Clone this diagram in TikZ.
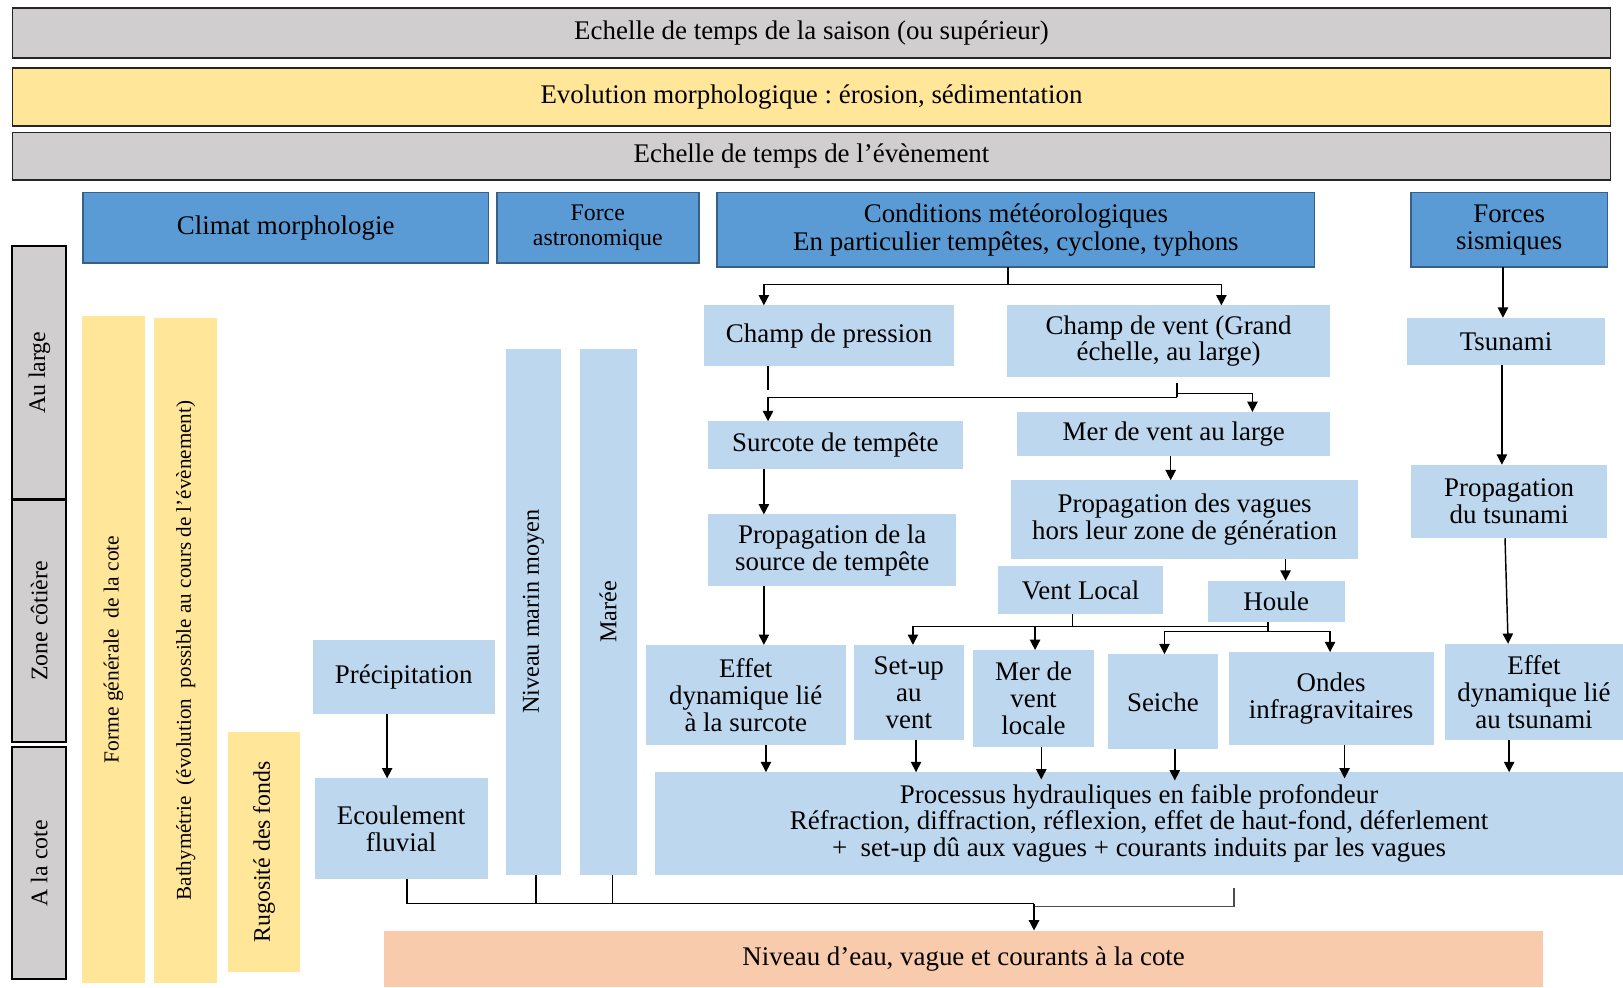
\documentclass[tikz,border=0pt]{standalone}
\usepackage{fontspec}
\setmainfont{Liberation Serif}
\usetikzlibrary{arrows.meta,calc}
\frenchspacing
\definecolor{graybg}{HTML}{D0CECE}
\definecolor{yel}{HTML}{FFE699}
\definecolor{bhead}{HTML}{5B9BD5}
\definecolor{bborder}{HTML}{3A5F85}
\definecolor{lblue}{HTML}{BDD7EE}
\definecolor{salmon}{HTML}{F8CBAD}
\newcommand{\mybox}[7]{\node[#1, minimum width={(#5-#3)*0.5pt}, minimum height={(#6-#4)*0.5pt}] (#2) at ({(#3+#5)/2},{(#4+#6)/2}) {#7};}
\newcommand{\myvbox}[7]{\node[#1, rotate=90, minimum width={(#6-#4)*0.5pt}, minimum height={(#5-#3)*0.5pt}] (#2) at ({(#3+#5)/2},{(#4+#6)/2}) {#7};}
\tikzset{
  base/.style={rectangle, inner sep=0pt, outer sep=0pt, align=center, font=\fontsize{13}{13}\selectfont},
  graybar/.style={base, fill=graybg, draw=black!85, line width=0.8pt},
  yelbar/.style={base, fill=yel, draw=black!85, line width=0.8pt},
  head/.style={base, fill=bhead, draw=bborder, line width=0.8pt},
  side/.style={base, fill=graybg, draw=black, line width=1pt, font=\fontsize{11.5}{12}\selectfont},
  yv/.style={base, fill=yel},
  lb/.style={base, fill=lblue},
  sal/.style={base, fill=salmon},
  ln/.style={line width=0.7pt, draw=black},
  arr/.style={ln, -{Triangle[length=5pt,width=5pt]}}
}
\begin{document}
\begin{tikzpicture}[x=0.5pt,y=-0.5pt]
\useasboundingbox (0,0) rectangle (1568,954);
% top bars
\mybox{graybar}{g1}{12}{8}{1556}{56}{Echelle de temps de la saison (ou supérieur)}
\mybox{yelbar}{yb}{12}{66}{1556}{122}{Evolution morphologique : érosion, sédimentation}
\mybox{graybar}{g2}{12}{128}{1556}{174}{Echelle de temps de l’évènement}
% headers
\mybox{head}{clim}{80}{186}{472}{254}{Climat morphologie}
\mybox{head, font=\fontsize{11.5}{12}\selectfont}{force}{480}{186}{675}{254}{Force\\astronomique}
\mybox{head, font=\fontsize{13}{13.5}\selectfont}{cond}{693}{186}{1270}{258}{Conditions météorologiques\\En particulier tempêtes, cyclone, typhons}
\mybox{head}{sism}{1363}{186}{1553}{258}{Forces\\sismiques}
% left side labels
\myvbox{side}{aul}{12}{238}{64}{482}{Au large}
\myvbox{side}{zc}{12}{483}{64}{717}{Zone côtière}
\myvbox{side}{alc}{12}{722}{64}{946}{A la cote}
% yellow vertical bars
\myvbox{yv, font=\fontsize{10.4}{11}\selectfont}{forme}{79}{305}{140}{950}{Forme générale\ \ de la cote}
\myvbox{yv, font=\fontsize{10.2}{11}\selectfont}{bathy}{149}{307}{210}{950}{Bathymétrie\ \ (évolution\ \ possible au cours de l’évènement)}
\myvbox{yv, font=\fontsize{11.5}{12}\selectfont}{rug}{220}{707}{290}{939}{Rugosité des fonds}
% light blue verticals
\myvbox{lb, font=\fontsize{11.7}{12}\selectfont}{nmm}{489}{337}{542}{845}{Niveau marin moyen}
\myvbox{lb, font=\fontsize{11.7}{12}\selectfont}{maree}{560}{337}{615}{845}{Marée}
% light blue boxes
\mybox{lb}{precip}{302}{618}{478}{690}{Précipitation}
\mybox{lb}{ecoul}{304}{752}{471}{849}{Ecoulement\\fluvial}
\mybox{lb}{pres}{680}{295}{922}{354}{Champ de pression}
\mybox{lb}{vent}{973}{295}{1285}{364}{Champ de vent (Grand\\échelle, au large)}
\mybox{lb}{surc}{684}{407}{930}{453}{Surcote de tempête}
\mybox{lb}{merl}{983}{398}{1285}{441}{Mer de vent au large}
\mybox{lb}{props}{684}{497}{924}{566}{Propagation de la\\source de tempête}
\mybox{lb}{propv}{977}{464}{1312}{540}{Propagation des vagues\\hors leur zone de génération}
\mybox{lb}{ventl}{964}{547}{1124}{593}{Vent Local}
\mybox{lb}{houle}{1167}{561}{1299}{601}{Houle}
\mybox{lb}{effs}{624}{623}{817}{720}{Effet\\dynamique lié\\à la surcote}
\mybox{lb}{setup}{825}{623}{931}{715}{Set-up\\au\\vent}
\mybox{lb}{merloc}{940}{628}{1057}{722}{Mer de\\vent\\locale}
\mybox{lb}{seiche}{1070}{632}{1177}{724}{Seiche}
\mybox{lb}{ondes}{1187}{630}{1385}{720}{Ondes\\infragravitaires}
\mybox{lb}{efft}{1396}{622}{1568}{715}{Effet\\dynamique lié\\au tsunami}
\mybox{lb}{tsu}{1359}{307}{1551}{353}{Tsunami}
\mybox{lb}{propt}{1363}{449}{1553}{520}{Propagation\\du tsunami}
\mybox{lb}{proc}{633}{746}{1568}{845}{Processus hydrauliques en faible profondeur\\Réfraction, diffraction, réflexion, effet de haut-fond, déferlement\\+\ \ set-up dû aux vagues + courants induits par les vagues}
\mybox{sal}{niv}{371}{899}{1491}{954}{Niveau d’eau, vague et courants à la cote}
% connectors: meteorological branch
\coordinate (j1) at (974,275);
\draw[ln] (974,0 |- cond.south) -- (j1);
\draw[arr] (j1) -| (738,0 |- pres.north);
\draw[arr] (j1) -| (1180,0 |- vent.north);
\coordinate (pe) at (742,377);
\draw[ln] (742,0 |- pres.south) -- (pe);
\coordinate (j2) at (1137,384);
\draw[ln] ($(1137,0 |- vent.south)+(0,6)$) -- (j2);
\draw[arr] (j2) -| (742,0 |- surc.north);
\draw[arr] ($(j2)+(0,-4)$) -| (1210,0 |- merl.north);
\draw[arr] (738,0 |- surc.south) -- (738,0 |- props.north);
\draw[arr] (1131,0 |- merl.south) -- (1131,0 |- propv.north);
\draw[arr] (1242,0 |- propv.south) -- (1242,0 |- houle.north);
\draw[arr] (738,0 |- props.south) -- (738,0 |- effs.north);
\coordinate (j3) at (1036,605);
\coordinate (j4) at (1225,605);
\coordinate (j5) at (1225,610);
\draw[ln] (1036,0 |- ventl.south) -- (j3);
\draw[ln] (1225,0 |- houle.south) -- (j5);
\draw[arr] (j4) -| (882,0 |- setup.north);
\draw[arr] (j3) -| (1000,0 |- merloc.north);
\draw[arr] (j5) -| (1125,0 |- seiche.north);
\draw[arr] (j5) -| (1285,0 |- ondes.north);
% to processus
\draw[arr] (740,0 |- effs.south) -- (740,0 |- proc.north);
\draw[arr] (885,0 |- setup.south) -- (885,0 |- proc.north);
\draw[arr] (1006,0 |- merloc.south) -- ($(1006,0 |- proc.north)+(0,7)$);
\draw[arr] (1135,0 |- seiche.south) -- ($(1135,0 |- proc.north)+(0,8)$);
\draw[arr] (1299,0 |- ondes.south) -- ($(1299,0 |- proc.north)+(0,6)$);
\draw[arr] (1458,0 |- efft.south) -- (1458,0 |- proc.north);
% tsunami branch
\draw[arr] (1452,0 |- sism.south) -- (1452,0 |- tsu.north);
\draw[arr] (1451,0 |- tsu.south) -- (1451,0 |- propt.north);
\draw[arr] (1454,0 |- propt.south) -- (1457,0 |- efft.north);
% precipitation
\draw[arr] (374,0 |- precip.south) -- (374,0 |- ecoul.north);
% collector
\coordinate (j6) at (999,873);
\draw[ln] (393,0 |- ecoul.south) |- (j6);
\draw[ln] (518,0 |- nmm.west) -- (518,0 |- j6);
\draw[ln] (592,0 |- maree.west) -- (592,0 |- j6);
\draw[ln, draw=black!70] ($(1192,0 |- proc.south)+(0,13)$) |- ($(j6)+(0,3)$);
\draw[arr] (j6) -- (999,0 |- niv.north);
\end{tikzpicture}
\end{document}
